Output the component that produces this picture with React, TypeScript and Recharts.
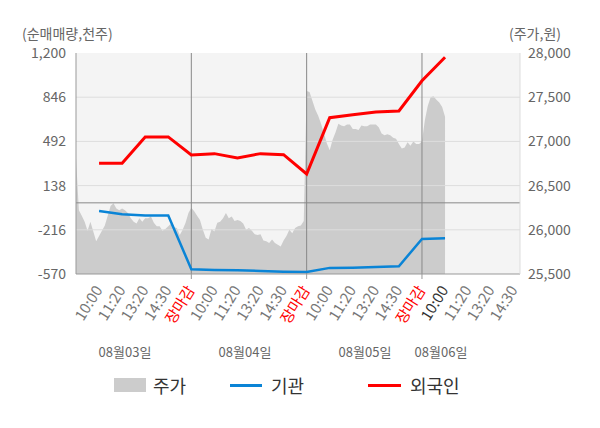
import React from "react";
import {
  ComposedChart,
  Area,
  Line,
  XAxis,
  YAxis,
  CartesianGrid,
  ReferenceLine,
} from "recharts";

// ---- data ----
const priceDay1 = [
  26810, 26220, 26160, 26090, 25990, 26090, 25980, 25870, 25930, 25990,
  26050, 26160, 26270, 26300, 26240, 26220, 26240, 26220, 26190, 26130,
  26090, 26070, 26130, 26090, 26130, 26130, 26150, 26080, 26040, 26040,
  25990, 26010, 26040, 26070, 26030, 26020, 25940, 26000, 26080, 26190,
];
const priceDay2 = [
  26250, 26210, 26160, 26110, 26000, 25910, 25890, 26010, 25980, 26080,
  26090, 26130, 26190, 26130, 26150, 26100, 26110, 26100, 26070, 26000,
  26020, 25990, 25950, 25940, 25950, 25880, 25870, 25850, 25890, 25850,
  25830, 25810, 25880, 25930, 26000, 25960, 26020, 26040, 26050, 26100,
];
const priceDay3 = [
  27570, 27560, 27460, 27360, 27290, 27200, 27090, 26980, 26900, 27020,
  27100, 27200, 27180, 27170, 27190, 27190, 27140, 27140, 27130, 27180,
  27170, 27170, 27190, 27190, 27190, 27160, 27090, 27070, 27080, 27070,
  27040, 27030, 26970, 26920, 26930, 26990, 26950, 27000, 26970, 26970,
];
const priceDay4 = [27000, 27240, 27400, 27500, 27510, 27470, 27440, 27390, 27280];

const institutionValues = [
  -65, -91, -102, -102, -532, -537, -540, -545, -551, -553, -521, -519, -513,
  -508, -289, -284,
];
const foreignValues = [
  317, 317, 528, 528, 383, 394, 360, 394, 386, 231, 682, 706, 728, 736, 978,
  1166,
];

const xTickLabels = [
  "10:00", "11:20", "13:20", "14:30", "장마감",
  "10:00", "11:20", "13:20", "14:30", "장마감",
  "10:00", "11:20", "13:20", "14:30", "장마감",
  "10:00", "11:20", "13:20", "14:30",
];
const dateLabels = ["08월03일", "08월04일", "08월05일", "08월06일"];
const leftTicks = [-570, -216, 138, 492, 846, 1200];
const rightTicks = [25500, 26000, 26500, 27000, 27500, 28000];
const daySeparators = [5, 10, 15];

const PER_STEP = 8;
const prices = [...priceDay1, ...priceDay2, ...priceDay3, ...priceDay4];
const data = prices.map((p, i) => {
  const row: any = { x: i / PER_STEP, price: p };
  if (i % PER_STEP === 0 && i >= PER_STEP) {
    const k = i / PER_STEP - 1;
    if (k < institutionValues.length) {
      row.inst = institutionValues[k];
      row.foreign = foreignValues[k];
    }
  }
  return row;
});
const xTicks = xTickLabels.map((_, i) => i + 1);

const FONT = "'Noto Sans CJK KR', 'Noto Sans', sans-serif";
const fmt = (v: number) => v.toLocaleString("en-US");

const XTick = (props: any) => {
  const { x, y, payload } = props;
  const v = payload.value as number;
  const label = xTickLabels[v - 1];
  const isClose = label === "장마감";
  const isNow = v === 16;
  const ax = x + 4;
  const ay = y + 16;
  return (
    <g>
      {daySeparators.includes(v) && (
        <line x1={x} y1={y} x2={x} y2={y + 5} stroke="#999" />
      )}
      <text
        x={ax}
        y={ay}
        textAnchor="end"
        fontSize={15}
        fontFamily={FONT}
        fill={isClose ? "#ff0000" : isNow ? "#333" : "#777"}
        transform={`rotate(-58, ${ax}, ${ay})`}
      >
        {label}
      </text>
    </g>
  );
};

const datePos = [125, 245, 365, 441];

export default function App() {
  return (
    <div
      style={{
        position: "absolute",
        left: 0,
        top: 0,
        width: 600,
        height: 428,
        background: "#fff",
        fontFamily: FONT,
        overflow: "hidden",
      }}
    >
      <ComposedChart
        width={600}
        height={428}
        data={data}
        margin={{ top: 53, right: 0, left: 0, bottom: 94 }}
      >
        <CartesianGrid
          yAxisId="left"
          horizontal={false}
          vertical={false}
          fill="#f4f4f4"
        />
        <XAxis
          type="number"
          dataKey="x"
          domain={[0, 19.25]}
          allowDataOverflow
          ticks={xTicks}
          interval={0}
          tickLine={false}
          tickSize={0}
          tickMargin={0}
          height={60}
          axisLine={{ stroke: "#999" }}
          tick={<XTick />}
        />
        <YAxis
          yAxisId="left"
          orientation="left"
          width={76}
          domain={[-570, 1200]}
          ticks={leftTicks}
          interval={0}
          tickFormatter={fmt}
          tickLine={false}
          tickSize={0}
          tickMargin={10}
          axisLine={{ stroke: "#999" }}
          tick={{ fill: "#666", fontSize: 14, fontFamily: FONT }}
        />
        <YAxis
          yAxisId="right"
          orientation="right"
          width={80}
          domain={[25500, 28000]}
          ticks={rightTicks}
          interval={0}
          tickFormatter={fmt}
          tickLine={false}
          tickSize={0}
          tickMargin={8}
          axisLine={{ stroke: "#ddd" }}
          tick={{ fill: "#666", fontSize: 14, fontFamily: FONT, textAnchor: "start" }}
        />
        <Area
          yAxisId="right"
          type="linear"
          dataKey="price"
          stroke="none"
          fill="#cccccc"
          fillOpacity={1}
          isAnimationActive={false}
          dot={false}
          activeDot={false}
        />
        {leftTicks
          .filter((t) => t !== -570 && t !== 1200)
          .map((t) => (
            <ReferenceLine key={t} yAxisId="left" y={t} stroke="#dddddd" />
          ))}
        <ReferenceLine yAxisId="left" y={0} stroke="#888" />
        {daySeparators.map((d) => (
          <ReferenceLine key={d} yAxisId="left" x={d} stroke="#888" />
        ))}
        <Line
          yAxisId="left"
          type="linear"
          dataKey="inst"
          stroke="#0a84d6"
          strokeWidth={2.5}
          dot={false}
          activeDot={false}
          connectNulls
          isAnimationActive={false}
        />
        <Line
          yAxisId="left"
          type="linear"
          dataKey="foreign"
          stroke="#ff0000"
          strokeWidth={3}
          dot={false}
          activeDot={false}
          connectNulls
          isAnimationActive={false}
        />
      </ComposedChart>

      <div style={{ position: "absolute", left: 22, top: 24, fontSize: 14, color: "#666", whiteSpace: "nowrap", lineHeight: "18px" }}>
        (순매매량,천주)
      </div>
      <div style={{ position: "absolute", left: 509, top: 24, fontSize: 14, color: "#666", whiteSpace: "nowrap", lineHeight: "18px" }}>
        (주가,원)
      </div>

      {dateLabels.map((d, i) => (
        <div
          key={d}
          style={{
            position: "absolute",
            left: datePos[i],
            top: 343,
            transform: "translateX(-50%)",
            fontSize: 13,
            color: "#666",
            whiteSpace: "nowrap",
            lineHeight: "18px",
          }}
        >
          {d}
        </div>
      ))}

      <div style={{ position: "absolute", left: 114, top: 378, width: 32, height: 14, background: "#cccccc" }} />
      <div style={{ position: "absolute", left: 153, top: 373, fontSize: 18, color: "#333", lineHeight: "24px", whiteSpace: "nowrap" }}>주가</div>
      <div style={{ position: "absolute", left: 230, top: 384, width: 32, height: 3, background: "#0a84d6" }} />
      <div style={{ position: "absolute", left: 271, top: 373, fontSize: 18, color: "#333", lineHeight: "24px", whiteSpace: "nowrap" }}>기관</div>
      <div style={{ position: "absolute", left: 368, top: 384, width: 33, height: 3, background: "#ff0000" }} />
      <div style={{ position: "absolute", left: 410, top: 373, fontSize: 18, color: "#333", lineHeight: "24px", whiteSpace: "nowrap" }}>외국인</div>
    </div>
  );
}
